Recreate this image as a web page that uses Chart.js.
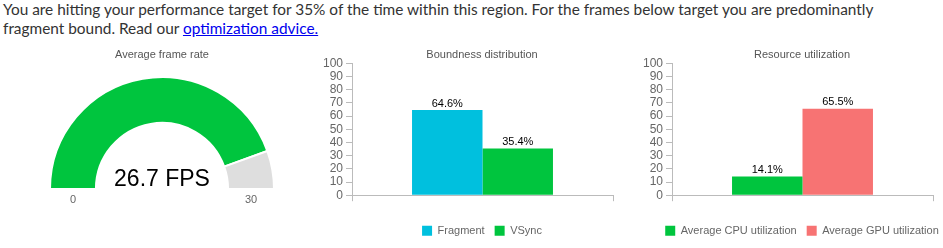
<!DOCTYPE html>
<html>
<head>
<meta charset="utf-8">
<script src="https://cdn.jsdelivr.net/npm/chart.js@4"></script>
<style>
  html, body { margin: 0; padding: 0; overflow: hidden; background: #fff; }
  body { width: 943px; height: 248px; position: relative; }
  .intro {
    position: absolute; left: 3px; top: 0; margin: 0;
    font-family: Lato, sans-serif; font-size: 15.4px; line-height: 19px; color: #333;
    white-space: nowrap;
  }
  .intro a { color: #0000ee; text-decoration: underline; }
  .box { position: absolute; top: 40px; width: 320px; }
  #gauge-box { left: 2px; height: 170px; }
  #bound-box { left: 322px; height: 210px; }
  #res-box { left: 642px; height: 210px; }
</style>
</head>
<body>
<p class="intro">You are hitting your performance target for 35% of the time within this region. For the frames below target you are predominantly<br>fragment bound. Read our <a href="#">optimization advice.</a></p>
<div class="box" id="gauge-box"><canvas id="gauge"></canvas></div>
<div class="box" id="bound-box"><canvas id="bound"></canvas></div>
<div class="box" id="res-box"><canvas id="res"></canvas></div>
<script>
// values
const fpsValue = 26.7;
const fpsTarget = 30;
const gaugeColors = ["#00c53e", "#dedede"];

const boundLabels = ["Fragment", "VSync"];
const boundValues = [64.6, 35.4];
const boundColors = ["#00c0de", "#00c53e"];

const resLabels = ["Average CPU utilization", "Average GPU utilization"];
const resValues = [14.1, 65.5];
const resColors = ["#00c53e", "#f77373"];

const FONT = "Arial, 'Liberation Sans', sans-serif";
Chart.defaults.font.family = FONT;
Chart.defaults.animation = false;
Chart.defaults.plugins.tooltip.enabled = false;

function titleOpts(text, bottom) {
  return {
    display: true, text,
    color: "#555",
    font: { size: 11, weight: "normal" },
    padding: { top: 8, bottom },
  };
}

// percent labels above the bars
const barValueLabels = {
  id: "barValueLabels",
  afterDatasetsDraw(chart) {
    const ctx = chart.ctx;
    ctx.save();
    ctx.font = "11px " + FONT;
    ctx.fillStyle = "#000";
    ctx.textAlign = "center";
    ctx.textBaseline = "bottom";
    chart.data.datasets.forEach((ds, i) => {
      chart.getDatasetMeta(i).data.forEach((bar, j) => {
        ctx.fillText(ds.data[j].toFixed(1) + "%", bar.x, bar.y - 1);
      });
    });
    ctx.restore();
  }
};

// "0", "30" under the arc ends and the big FPS readout
const gaugeText = {
  id: "gaugeText",
  afterDraw(chart) {
    const arc = chart.getDatasetMeta(0).data[0];
    if (!arc) return;
    const mid = (arc.innerRadius + arc.outerRadius) / 2;
    const ctx = chart.ctx;
    ctx.save();
    ctx.fillStyle = "#666";
    ctx.font = "11px " + FONT;
    ctx.textAlign = "center";
    ctx.textBaseline = "middle";
    ctx.fillText("0", arc.x - mid, arc.y + 11);
    ctx.fillText(String(fpsTarget), arc.x + mid, arc.y + 11);
    ctx.fillStyle = "#000";
    ctx.font = "23px " + FONT;
    ctx.textBaseline = "alphabetic";
    ctx.fillText(fpsValue.toFixed(1) + " FPS", arc.x, arc.y - 2.7);
    ctx.restore();
  }
};

new Chart(document.getElementById("gauge"), {
  type: "doughnut",
  data: {
    labels: ["FPS", ""],
    datasets: [{
      data: [fpsValue, fpsTarget - fpsValue],
      backgroundColor: gaugeColors,
      borderColor: "#fff",
      borderWidth: 2,
    }]
  },
  options: {
    responsive: true,
    maintainAspectRatio: false,
    rotation: -90,
    circumference: 180,
    cutout: "59%",
    layout: { padding: { left: 46, right: 46, bottom: 20 } },
    plugins: {
      legend: { display: false },
      title: titleOpts("Average frame rate", 14.8),
    }
  },
  plugins: [gaugeText]
});

function barChart(id, title, labels, values, colors) {
  return new Chart(document.getElementById(id), {
    type: "bar",
    data: {
      labels: [""],
      datasets: labels.map((l, i) => ({
        label: l,
        data: [values[i]],
        backgroundColor: colors[i],
        categoryPercentage: 0.54,
        barPercentage: 1,
      }))
    },
    options: {
      responsive: true,
      maintainAspectRatio: false,
      layout: { padding: { bottom: 3.8 } },
      scales: {
        x: {
          ticks: { display: false },
          grid: { drawOnChartArea: false, tickLength: 6, color: "#bbb" },
          border: { color: "#bbb" },
          afterFit: s => { s.height = 20; },
        },
        y: {
          min: 0, max: 100,
          ticks: { stepSize: 10, autoSkip: false, color: "#666", font: { size: 12 }, padding: 3 },
          grid: { drawOnChartArea: false, tickLength: 6, color: "#bbb" },
          border: { color: "#bbb" },
          afterFit: s => { s.width = 30; },
        },
        spacer: {
          position: "right",
          ticks: { display: false },
          grid: { display: false },
          border: { display: false },
          afterFit: s => { s.width = 29; },
        }
      },
      plugins: {
        title: titleOpts(title, 2.1),
        legend: {
          position: "bottom",
          labels: { boxWidth: 10, boxHeight: 10, color: "#666", font: { size: 11 }, padding: 10 }
        }
      }
    },
    plugins: [barValueLabels]
  });
}

barChart("bound", "Boundness distribution", boundLabels, boundValues, boundColors);
barChart("res", "Resource utilization", resLabels, resValues, resColors);
</script>
</body>
</html>
